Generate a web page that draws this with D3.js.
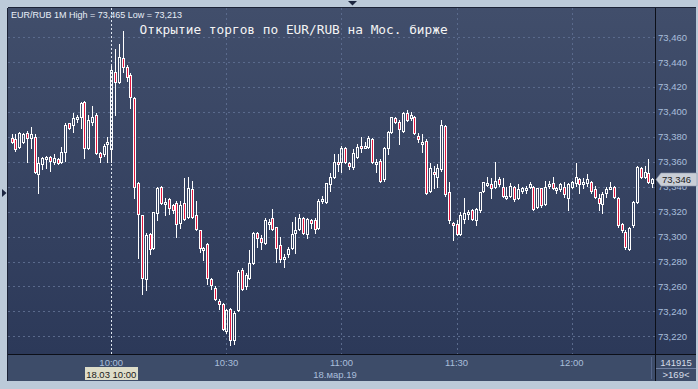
<!DOCTYPE html>
<html><head><meta charset="utf-8">
<script src="https://cdn.jsdelivr.net/npm/d3@7"></script>
<style>html,body{margin:0;padding:0;background:#bccad9;}svg{display:block;}</style>
</head><body>
<svg id="chart" width="698" height="389"></svg>
<script>
// ---- data (1-minute candles, EUR/RUB, 18.03.19, 09:34 .. 12:21) ----
const startTime = "2019-03-18T09:34:00";
const open = [
73.379,73.378,73.372,73.376,73.383,73.379,73.380,73.350,73.358,73.362,
73.364,73.360,73.362,73.360,73.368,73.391,73.390,73.395,73.396,73.408,
73.371,73.392,73.398,73.367,73.366,73.374,73.370,73.432,73.424,73.443,
73.436,73.430,73.411,73.343,73.317,73.266,73.302,73.291,73.319,73.340,
73.327,73.330,73.325,73.327,73.311,73.327,73.316,73.338,73.317,73.305,
73.290,73.294,73.266,73.259,73.248,73.246,73.224,73.242,73.217,73.241,
73.273,73.260,73.267,73.279,73.303,73.299,73.295,73.311,73.315,73.308,
73.293,73.282,73.286,73.291,73.303,73.306,73.315,73.302,73.313,73.313,
73.307,73.329,73.328,73.342,73.348,73.360,73.360,73.371,73.359,73.356,
73.364,73.373,73.372,73.372,73.378,73.359,73.361,73.346,73.371,73.384,
73.395,73.392,73.385,73.399,73.395,73.396,73.381,73.375,73.377,73.337,
73.352,73.348,73.354,73.389,73.336,73.311,73.310,73.302,73.314,73.319,
73.321,73.313,73.321,73.337,73.342,73.342,73.340,73.346,73.340,73.332,
73.333,73.340,73.331,73.337,73.338,73.340,73.340,73.324,73.339,73.326,
73.341,73.343,73.338,73.338,73.340,73.331,73.340,73.343,73.346,73.343,
73.343,73.344,73.338,73.331,73.326,73.335,73.339,73.340,73.331,73.310,
73.304,73.290,73.309,73.328,73.355,73.348,73.351,73.343];
const high = [
73.382,73.382,73.384,73.383,73.385,73.388,73.382,73.364,73.364,73.365,
73.365,73.366,73.363,73.372,73.391,73.391,73.399,73.398,73.408,73.409,
73.398,73.405,73.399,73.368,73.374,73.380,73.437,73.451,73.455,73.465,
73.438,73.431,73.412,73.344,73.317,73.303,73.303,73.320,73.340,73.341,
73.331,73.331,73.326,73.329,73.329,73.347,73.348,73.345,73.329,73.305,
73.292,73.295,73.267,73.260,73.250,73.247,73.242,73.243,73.240,73.273,
73.275,73.271,73.289,73.304,73.304,73.301,73.315,73.314,73.322,73.308,
73.300,73.286,73.292,73.312,73.316,73.318,73.316,73.315,73.314,73.315,
73.330,73.333,73.343,73.351,73.366,73.366,73.373,73.372,73.360,73.370,
73.374,73.380,73.376,73.381,73.379,73.362,73.362,73.372,73.385,73.396,
73.396,73.394,73.400,73.402,73.400,73.397,73.383,73.382,73.378,73.359,
73.357,73.358,73.394,73.390,73.344,73.312,73.313,73.320,73.331,73.321,
73.322,73.323,73.336,73.344,73.348,73.347,73.360,73.348,73.347,73.340,
73.343,73.341,73.342,73.340,73.341,73.344,73.341,73.339,73.339,73.345,
73.345,73.348,73.340,73.343,73.344,73.343,73.345,73.359,73.347,73.347,
73.350,73.345,73.341,73.334,73.336,73.340,73.344,73.341,73.332,73.311,
73.305,73.308,73.329,73.357,73.356,73.357,73.362,73.347];
const low = [
73.375,73.369,73.371,73.375,73.360,73.371,73.351,73.335,73.354,73.355,
73.353,73.358,73.358,73.359,73.361,73.386,73.384,73.392,73.387,73.363,
73.370,73.390,73.366,73.360,73.365,73.360,73.360,73.398,73.423,73.432,
73.425,73.403,73.331,73.283,73.254,73.257,73.286,73.290,73.313,73.326,
73.317,73.318,73.319,73.300,73.307,73.313,73.315,73.315,73.305,73.288,
73.281,73.262,73.258,73.249,73.242,73.225,73.223,73.213,73.214,73.240,
73.257,73.258,73.266,73.278,73.292,73.290,73.294,73.306,73.305,73.280,
73.280,73.276,73.284,73.290,73.287,73.305,73.302,73.299,73.307,73.303,
73.306,73.327,73.327,73.337,73.347,73.353,73.352,73.359,73.354,73.354,
73.363,73.368,73.371,73.371,73.359,73.352,73.344,73.345,73.366,73.383,
73.391,73.374,73.384,73.393,73.394,73.382,73.376,73.368,73.334,73.336,
73.339,73.340,73.353,73.333,73.311,73.297,73.301,73.301,73.311,73.314,
73.313,73.309,73.320,73.336,73.341,73.331,73.339,73.341,73.332,73.330,
73.332,73.329,73.330,73.335,73.335,73.339,73.321,73.323,73.324,73.325,
73.339,73.338,73.335,73.337,73.332,73.321,73.339,73.341,73.335,73.339,
73.341,73.335,73.331,73.321,73.319,73.332,73.338,73.331,73.308,73.304,
73.290,73.289,73.308,73.327,73.347,73.347,73.343,73.340];
const close = [
73.376,73.370,73.383,73.382,73.379,73.382,73.352,73.359,73.363,73.364,
73.361,73.363,73.359,73.368,73.390,73.387,73.395,73.396,73.407,73.371,
73.394,73.396,73.367,73.364,73.373,73.376,73.434,73.424,73.444,73.436,
73.428,73.412,73.340,73.318,73.267,73.301,73.290,73.320,73.339,73.327,
73.328,73.323,73.321,73.310,73.325,73.314,73.339,73.316,73.306,73.291,
73.291,73.267,73.261,73.250,73.246,73.226,73.241,73.217,73.239,73.272,
73.258,73.269,73.279,73.303,73.299,73.296,73.313,73.312,73.306,73.291,
73.282,73.284,73.290,73.302,73.305,73.315,73.303,73.314,73.311,73.306,
73.329,73.330,73.343,73.348,73.360,73.358,73.371,73.360,73.357,73.367,
73.372,73.371,73.373,73.379,73.360,73.360,73.345,73.371,73.384,73.396,
73.392,73.386,73.399,73.394,73.398,73.383,73.378,73.376,73.335,73.355,
73.350,73.355,73.390,73.334,73.313,73.309,73.302,73.317,73.319,73.320,
73.314,73.322,73.336,73.344,73.343,73.339,73.345,73.342,73.333,73.333,
73.341,73.330,73.338,73.339,73.339,73.342,73.322,73.339,73.325,73.340,
73.342,73.339,73.339,73.342,73.334,73.342,73.344,73.348,73.342,73.344,
73.346,73.337,73.332,73.327,73.334,73.338,73.340,73.332,73.309,73.305,
73.292,73.307,73.328,73.356,73.348,73.352,73.344,73.346];
const priceTicks = [73.22,73.24,73.26,73.28,73.30,73.32,73.34,73.36,73.38,73.40,73.42,73.44,73.46];
const timeTicks = ["10:00","10:30","11:00","11:30","12:00"];
const titleText = "EUR/RUB 1M High = 73,465 Low = 73,213";
const headline = "Открытие торгов по EUR/RUB на Мос. бирже";
const lastPrice = 73.346;
const dateLabel = "18.мар.19";
const cursorLabel = "18.03 10:00";
const cursorTime = "10:00";
const volumeText = "141915";
const countText = ">169<";

// ---- layout ----
const W = 698, H = 389;
const F = {x0: 8, x1: 696, y0: 8, y1: 381};
const P = {x0: 8, x1: 655.5, y0: 8, y1: 354};
const font = "'Liberation Sans', Arial, sans-serif";
const axisColor = "#a9bedb";

const svg = d3.select("#chart");
const parse = d3.timeParse("%Y-%m-%dT%H:%M:%S");
const t0 = parse(startTime);
const times = open.map((_, i) => d3.timeMinute.offset(t0, i));
const candles = times.map((t, i) => ({t, o: open[i], h: high[i], l: low[i], c: close[i]}));

const x = d3.scaleTime().domain([times[0], times[times.length - 1]]).range([11.5, 652.3]);
const y = d3.scaleLinear().domain([73.22, 73.46]).range([336.3, 37.3]);
const tAt = s => parse("2019-03-18T" + s + ":00");
const fmtPrice = v => d3.format(".3f")(v).replace(".", ",");

const defs = svg.append("defs");
const g1 = defs.append("linearGradient").attr("id", "bg").attr("x1", 0).attr("y1", 0).attr("x2", 0).attr("y2", 1);
g1.append("stop").attr("offset", "0%").attr("stop-color", "#414e6b");
g1.append("stop").attr("offset", "100%").attr("stop-color", "#2c3959");
defs.append("clipPath").attr("id", "clip").append("rect")
  .attr("x", P.x0).attr("y", P.y0).attr("width", P.x1 - P.x0).attr("height", P.y1 - P.y0);
const ly = Math.round(y(lastPrice));
defs.append("clipPath").attr("id", "lblclip").append("rect")
  .attr("x", 656).attr("y", ly + 7.5).attr("width", 42).attr("height", 20);

// frame
svg.append("rect").attr("width", W).attr("height", H).attr("fill", "#bccad9");
svg.append("rect").attr("x", F.x0).attr("y", F.y0).attr("width", F.x1 - F.x0).attr("height", P.y1 - F.y0).attr("fill", "url(#bg)");
svg.append("rect").attr("x", F.x0).attr("y", P.y1).attr("width", F.x1 - F.x0).attr("height", F.y1 - P.y1).attr("fill", "#3d4c69");
svg.append("line").attr("x1", F.x0).attr("x2", F.x1).attr("y1", 7.5).attr("y2", 7.5).attr("stroke", "#1b2236");
svg.append("line").attr("x1", 7.5).attr("x2", 7.5).attr("y1", F.y0).attr("y2", F.y1).attr("stroke", "#1b2236");

// grid
const grid = svg.append("g");
grid.selectAll("line.h").data(priceTicks).join("line")
  .attr("x1", P.x0).attr("x2", P.x1)
  .attr("y1", d => Math.round(y(d)) + 0.5).attr("y2", d => Math.round(y(d)) + 0.5)
  .attr("stroke", "#5a6a8c").attr("stroke-dasharray", "2,3");
grid.selectAll("line.v").data(timeTicks.filter(s => s !== cursorTime)).join("line")
  .attr("x1", d => Math.round(x(tAt(d))) + 0.5).attr("x2", d => Math.round(x(tAt(d))) + 0.5)
  .attr("y1", P.y0).attr("y2", P.y1)
  .attr("stroke", "#5a6a8c").attr("stroke-dasharray", "2,3");

// cursor line at 10:00
const cx0 = Math.round(x(tAt(cursorTime))) + 0.5;
svg.append("line").attr("x1", cx0).attr("x2", cx0).attr("y1", P.y0).attr("y2", P.y1)
  .attr("stroke", "#dfe6f0").attr("stroke-dasharray", "2,2");

// candles
const cg = svg.append("g").attr("clip-path", "url(#clip)");
candles.forEach(d => {
  const cx = Math.round(x(d.t));
  let yt = Math.round(y(Math.max(d.o, d.c)));
  let yb = Math.round(y(Math.min(d.o, d.c)));
  if (yb - yt < 2) yb = yt + 2;
  const yh = Math.round(y(d.h)), yl = Math.round(y(d.l));
  const bear = d.c < d.o;
  if (yh < yt) cg.append("line").attr("x1", cx + 0.5).attr("x2", cx + 0.5).attr("y1", yh).attr("y2", yt).attr("stroke", "#fff");
  if (yl > yb) cg.append("line").attr("x1", cx + 0.5).attr("x2", cx + 0.5).attr("y1", yb + 1).attr("y2", yl + 1).attr("stroke", "#fff");
  cg.append("rect").attr("x", cx - 0.5).attr("y", yt + 0.5).attr("width", 2).attr("height", yb - yt)
    .attr("fill", bear ? "#e3173e" : "none").attr("stroke", "#fff").attr("stroke-width", 1);
});

// axis separators
svg.append("line").attr("x1", P.x1).attr("x2", P.x1).attr("y1", F.y0).attr("y2", F.y1).attr("stroke", "#0c0f18");
svg.append("line").attr("x1", F.x0).attr("x2", F.x1).attr("y1", P.y1 + 0.5).attr("y2", P.y1 + 0.5).attr("stroke", "#0c0f18");

// price labels (the one under the last-price marker is clipped like in the original)
svg.append("g").selectAll("text").data(priceTicks).join("text")
  .attr("x", 658).attr("y", d => y(d)).attr("dy", "0.35em")
  .attr("font-family", font).attr("font-size", 9.5).attr("fill", axisColor)
  .attr("clip-path", d => Math.abs(y(d) - ly) < 12 ? "url(#lblclip)" : null)
  .text(fmtPrice);

// last price marker
svg.append("path")
  .attr("d", `M656,${ly + 0.5} L661,${ly - 6} L697,${ly - 6} L697,${ly + 7} L661,${ly + 7} Z`)
  .attr("fill", "#c9ced6").attr("stroke", "#8f9cb0").attr("stroke-width", 0.6);
svg.append("text").attr("x", 662).attr("y", ly + 4).attr("font-family", font).attr("font-size", 9.5)
  .attr("fill", "#1a1a1a").text(fmtPrice(lastPrice));

// time labels
svg.append("g").selectAll("text").data(timeTicks).join("text")
  .attr("x", d => x(tAt(d))).attr("y", 366).attr("text-anchor", "middle")
  .attr("font-family", font).attr("font-size", 9.5).attr("fill", axisColor).text(d => d);
svg.append("rect").attr("x", 85).attr("y", 367).attr("width", 53).attr("height", 13).attr("fill", "#deddc9");
svg.append("text").attr("x", x(tAt(cursorTime))).attr("y", 377.5).attr("text-anchor", "middle")
  .attr("font-family", font).attr("font-size", 9.5).attr("fill", "#1a1a1a").text(cursorLabel);
svg.append("text").attr("x", 335).attr("y", 377.5).attr("text-anchor", "middle")
  .attr("font-family", font).attr("font-size", 9.5).attr("fill", axisColor).text(dateLabel);

// bottom-right info
svg.append("line").attr("x1", 651.5).attr("x2", 651.5).attr("y1", 357).attr("y2", 379).attr("stroke", "#56668a");
svg.append("line").attr("x1", 656).attr("x2", 696).attr("y1", 368.5).attr("y2", 368.5).attr("stroke", "#7181a2");
svg.append("text").attr("x", 676).attr("y", 366).attr("text-anchor", "middle").attr("font-family", font)
  .attr("font-size", 9.5).attr("fill", "#d6dde8").text(volumeText);
svg.append("text").attr("x", 676).attr("y", 378).attr("text-anchor", "middle").attr("font-family", font)
  .attr("font-size", 9.5).attr("fill", "#d6dde8").text(countText);

// titles
svg.append("text").attr("x", 11).attr("y", 17.7).attr("font-family", font).attr("font-size", 9)
  .attr("fill", "#e8eef8").text(titleText);
svg.append("text").attr("x", 139.5).attr("y", 34).attr("font-family", "'DejaVu Sans Mono', 'Liberation Mono', monospace")
  .attr("font-size", 12.8).attr("fill", "#f4f4f4").text(headline);

// frame markers
svg.append("path").attr("d", "M348,1 L357,1 L352.5,5.5 Z").attr("fill", "#1c2640");
svg.append("path").attr("d", "M2,189 L6.5,193 L2,197 Z").attr("fill", "#1c2640");
</script>
</body></html>
